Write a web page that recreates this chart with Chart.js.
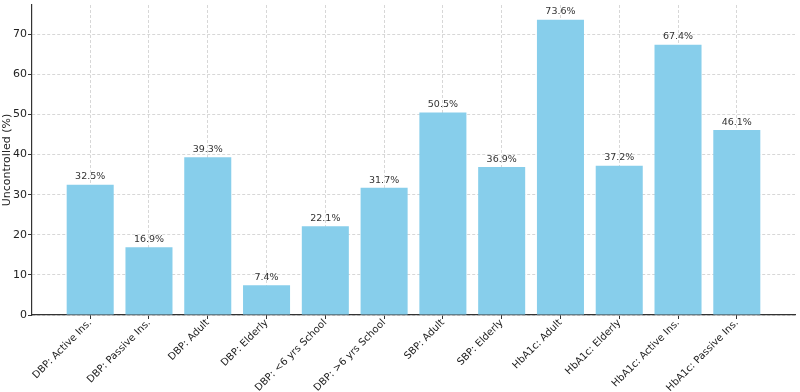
<!DOCTYPE html>
<html>
<head>
<meta charset="utf-8">
<script src="https://cdn.jsdelivr.net/npm/chart.js@4"></script>
<style>
  html, body { margin: 0; padding: 0; background: #fff; }
  #wrap { width: 800px; height: 392px; }
</style>
</head>
<body>
<div id="wrap"><canvas id="chart"></canvas></div>
<script>
const categories = ["DBP: Active Ins.", "DBP: Passive Ins.", "DBP: Adult", "DBP: Elderly",
    "DBP: <6 yrs School", "DBP: >6 yrs School", "SBP: Adult", "SBP: Elderly",
    "HbA1c: Adult", "HbA1c: Elderly", "HbA1c: Active Ins.", "HbA1c: Passive Ins."];
const uncontrolled = [32.5, 16.9, 39.3, 7.4, 22.1, 31.7, 50.5, 36.9, 73.6, 37.2, 67.4, 46.1];
const yTicks = [0, 10, 20, 30, 40, 50, 60, 70];

const font = "'DejaVu Sans', sans-serif";
const gridColor = "rgba(205,205,205,0.8)";

// value labels above each bar
const valueLabels = {
    id: "valueLabels",
    afterDatasetsDraw(chart) {
        const ctx = chart.ctx;
        const meta = chart.getDatasetMeta(0);
        ctx.save();
        ctx.font = "9.5px " + font;
        ctx.fillStyle = "#333";
        ctx.textAlign = "center";
        ctx.textBaseline = "bottom";
        meta.data.forEach((bar, i) => {
            ctx.fillText(uncontrolled[i].toFixed(1) + "%", bar.x, bar.y - 3);
        });
        ctx.restore();
    }
};

new Chart(document.getElementById("chart"), {
    type: "bar",
    data: {
        datasets: [{
            data: uncontrolled.map((v, i) => ({ x: i, y: v })),
            backgroundColor: "#87CEEB",
            borderWidth: 0,
            barPercentage: 0.8,
            categoryPercentage: 1.0
        }]
    },
    options: {
        responsive: true,
        maintainAspectRatio: false,
        animation: false,
        layout: { padding: { top: 5, right: 5, left: 0, bottom: 0 } },
        plugins: { legend: { display: false }, tooltip: { enabled: false } },
        scales: {
            x: {
                type: "linear",
                offset: false,
                z: 1,
                min: -0.99,
                max: 11.99,
                afterBuildTicks: s => {
                    s.ticks = categories.map((c, i) => ({ value: i }));
                },
                afterFit: s => { s.height = 77; },
                grid: {
                    offset: false,
                    color: gridColor,
                    tickColor: "#333",
                    tickLength: 4,
                    tickBorderDash: []
                },
                border: { display: true, color: "#333", width: 1.2, dash: [3, 2] },
                ticks: {
                    autoSkip: false,
                    minRotation: 45,
                    maxRotation: 45,
                    padding: -2,
                    color: "#222",
                    font: { family: font, size: 10 },
                    callback: v => categories[v]
                }
            },
            y: {
                z: 1,
                min: 0,
                max: 77.28,
                afterBuildTicks: s => {
                    s.ticks = yTicks.map(v => ({ value: v }));
                },
                afterFit: s => { s.width = 32; s.paddingTop = 0; },
                grid: {
                    color: gridColor,
                    tickColor: "#333",
                    tickLength: 4,
                    tickBorderDash: []
                },
                border: { display: true, color: "#333", width: 1.2, dash: [3, 2] },
                ticks: {
                    padding: 1,
                    color: "#222",
                    font: { family: font, size: 11 }
                },
                title: {
                    display: true,
                    text: "Uncontrolled (%)",
                    color: "#222",
                    font: { family: font, size: 11 },
                    padding: { top: 1, bottom: 2 }
                }
            }
        }
    },
    plugins: [valueLabels]
});
</script>
</body>
</html>
